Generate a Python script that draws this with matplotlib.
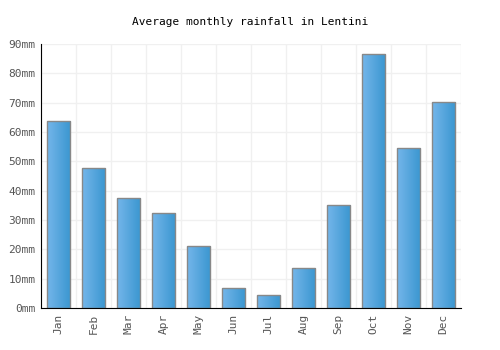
import matplotlib
matplotlib.use('Agg')
import matplotlib.pyplot as plt
import numpy as np
from matplotlib.colors import LinearSegmentedColormap

months = ['Jan', 'Feb', 'Mar', 'Apr', 'May', 'Jun',
          'Jul', 'Aug', 'Sep', 'Oct', 'Nov', 'Dec']
rainfall = [63.7, 47.7, 37.5, 32.4, 21.1, 6.8, 4.4, 13.6, 35.1, 86.6, 54.5, 70.2]
y_ticks = [0, 10, 20, 30, 40, 50, 60, 70, 80, 90]

plt.rcParams['font.family'] = ['DejaVu Sans Mono']

fig = plt.figure(figsize=(5, 3.5), dpi=100)
ax = fig.add_axes([0.082, 0.12, 0.84, 0.754])

x = np.arange(len(months))
width = 0.68
bars = ax.bar(x, rainfall, width=width, color='none', edgecolor='#888888',
              linewidth=1, zorder=3)

cmap = LinearSegmentedColormap.from_list('bar', ['#74b6ea', '#3a96d0'])
grad = np.linspace(0, 1, 64).reshape(1, -1)
for b in bars:
    x0, y0 = b.get_x(), b.get_y()
    w, h = b.get_width(), b.get_height()
    im = ax.imshow(grad, cmap=cmap, extent=[x0, x0 + w, y0, y0 + h],
                   aspect='auto', zorder=2, interpolation='bilinear')
    im.set_clip_path(b)

ax.set_xlim(-0.5, len(months) - 0.5)
ax.set_ylim(0, 90)
ax.set_xticks(x)
ax.set_xticklabels(months, rotation=90, fontsize=8, color='#555555')
ax.set_yticks(y_ticks)
ax.set_yticklabels([f'{v}mm' for v in y_ticks], fontsize=8, color='#555555')
ax.tick_params(length=0, pad=4)

ax.set_xticks(np.arange(-0.5, len(months), 1), minor=True)
ax.grid(True, which='minor', axis='x', color='#f0f0f0', linewidth=1, zorder=0)
ax.grid(True, which='major', axis='y', color='#f0f0f0', linewidth=1, zorder=0)
ax.tick_params(which='minor', length=0)

for side in ['top', 'right']:
    ax.spines[side].set_visible(False)
ax.spines['left'].set_color('black')
ax.spines['bottom'].set_color('black')
ax.spines['left'].set_zorder(4)
ax.spines['bottom'].set_zorder(4)

fig.suptitle('Average monthly rainfall in Lentini', fontsize=8, y=0.952)

fig.savefig('out.png', dpi=100)
